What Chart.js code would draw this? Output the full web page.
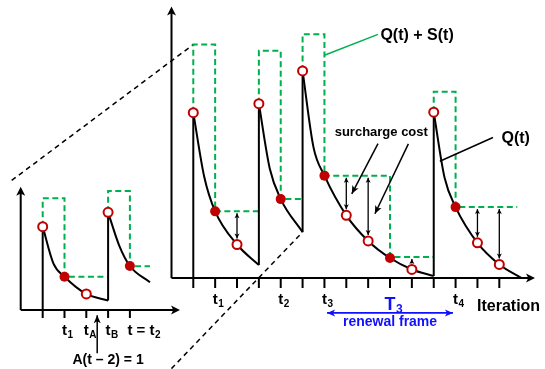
<!DOCTYPE html>
<html>
<head>
<meta charset="utf-8">
<script src="https://cdn.jsdelivr.net/npm/chart.js@4.4.1/dist/chart.umd.min.js"></script>
<style>
  html, body { margin: 0; padding: 0; background: #fff; }
  #wrap { position: relative; width: 545px; height: 369px; }
  canvas { position: absolute; left: 0; top: 0; }
</style>
</head>
<body>
<div id="wrap">
  <canvas id="inset" width="545" height="369"></canvas>
  <canvas id="main" width="545" height="369"></canvas>
</div>
<script>
// ---- main view: cost per iteration (x = iteration index, y = cost) ----
const mainTicks = [0, 1, 2, 3, 4, 5, 6, 7, 8, 9, 10, 11, 12, 13, 14];
const mainTickLabels = ['', ['t', '1'], '', '', ['t', '2'], '', ['t', '3'], '', '', '', '', '', ['t', '4'], '', ''];

// Q(t), one decaying piece per frame
const q1 = [[0, 62.05], [0.5, 38], [1, 25], [2, 12.57], [3, 4.85]];
const q2 = [[3, 65.4], [3.5, 41], [4, 29.6], [5, 17.2]];
const q3 = [[5, 77.7], [5.5, 49], [6, 38.4], [7, 23.5], [8, 13.9], [9, 7.5], [10, 3.2], [11, 0.75]];
const q4 = [[11, 62.2], [11.5, 37.5], [12, 26.6], [13, 13.2], [14, 5.1], [15.02, 0]];
// jumps at renewals
const jumps = [[[0, 0], [0, 62.05]], [[3, 4.85], [3, 65.4]], [[5, 17.2], [5, 77.7]], [[11, 0.75], [11, 62.2]]];

// Q(t) + S(t), step line
const qs1 = [[0, 62.05], [0, 87.6], [1, 87.6], [1, 25], [3, 25]];
const qs2 = [[3, 65.4], [3, 85.3], [4, 85.3], [4, 29.6], [5, 29.6]];
const qs3 = [[5, 77.7], [5, 91.5], [6, 91.5], [6, 38.4], [9, 38.4], [9, 7.9], [11, 7.9]];
const qs4 = [[11, 62.2], [11, 69.9], [12, 69.9], [12, 26.6], [14.82, 26.6]];

const openPts = [[0, 62.05], [2, 12.57], [3, 65.4], [5, 77.7], [7, 23.5], [8, 13.9], [10, 3.2], [11, 62.2], [13, 13.2], [14, 5.1]];
const filledPts = [[1, 25], [4, 29.6], [6, 38.4], [9, 7.5], [12, 26.6]];

// surcharge (gap between Q+S level and Q)
const surchargeK = [2, 7, 8, 10, 13, 14];
const surchargeTop = [25, 38.4, 38.4, 7.9, 26.6, 26.6];
const surchargeBottom = [12.57, 23.5, 13.9, 3.2, 13.2, 5.1];

// zoom connector lines (main units)
const connectUpper = [[-8.31, 36.6], [0, 87.6]];
const connectLower = [[-1.0, -34], [5, 17.2]];

// ---- inset view ----
const insetTicks = [0, 1, 2, 3, 4];
const insetTickLabels = ['', ['t', '1'], ['t', 'A'], ['t', 'B'], ['t = t', '2']];
const iq1 = [[0, 67.6], [0.5, 37.4], [1, 27.0], [2, 13.0], [3, 7.7]];
const iq2 = [[3, 79.2], [3.5, 52.7], [4, 35.7], [4.92, 22.5]];
const ijumps = [[[0, 0], [0, 67.6]], [[3, 7.7], [3, 79.2]]];
const iqs1 = [[0, 67.6], [0, 90.6], [1, 90.6], [1, 27.0], [3, 27.0]];
const iqs2 = [[3, 79.2], [3, 96.5], [4, 96.5], [4, 35.5], [4.92, 35.5]];
const iOpen = [[0, 67.6], [2, 13.0], [3, 79.2]];
const iFilled = [[1, 27.0], [4, 35.7]];

const FONT = '"Liberation Sans", Arial, sans-serif';
const GREEN = '#00b050';
const RED = '#c00000';
const BLUE = '#1010ff';

const xy = arr => arr.map(([x, y]) => ({ x, y }));

function lineDs(data, color, width, dash, smooth) {
  return {
    data: xy(data), showLine: true, borderColor: color, borderWidth: width,
    borderDash: dash || [], pointRadius: 0, fill: false, clip: false,
    tension: 0, cubicInterpolationMode: smooth ? 'monotone' : 'default'
  };
}
function markerDs(data, open, r) {
  return {
    data: xy(data), showLine: false, clip: false, pointStyle: 'circle',
    pointRadius: r, borderWidth: open ? 2 : 0, borderColor: RED,
    backgroundColor: open ? '#fff' : RED
  };
}

function arrowHead(ctx, x, y, ang, len, half) {
  ctx.save();
  ctx.translate(x, y);
  ctx.rotate(ang);
  ctx.beginPath();
  ctx.moveTo(0, 0);
  ctx.lineTo(-len, -half);
  ctx.lineTo(-len * 0.75, 0);
  ctx.lineTo(-len, half);
  ctx.closePath();
  ctx.fill();
  ctx.restore();
}
function arrow(ctx, x1, y1, x2, y2, both, len, half) {
  const ang = Math.atan2(y2 - y1, x2 - x1);
  ctx.beginPath();
  ctx.moveTo(x1, y1);
  ctx.lineTo(x2, y2);
  ctx.stroke();
  arrowHead(ctx, x2, y2, ang, len, half);
  if (both) arrowHead(ctx, x1, y1, ang + Math.PI, len, half);
}

function drawAxes(chart, ticks, labels, tickLen, labelGap) {
  const { ctx, chartArea: a, scales: { x, y } } = chart;
  const y0 = y.getPixelForValue(0);
  ctx.save();
  ctx.strokeStyle = '#000';
  ctx.fillStyle = '#000';
  ctx.lineWidth = 2;
  ctx.beginPath();
  ctx.moveTo(a.left, y0); ctx.lineTo(a.right - 5, y0);
  ctx.moveTo(a.left, y0); ctx.lineTo(a.left, a.top + 5);
  ctx.stroke();
  arrowHead(ctx, a.right, y0, 0, 9, 4.5);
  arrowHead(ctx, a.left, a.top, -Math.PI / 2, 9, 4.5);
  ctx.beginPath();
  ticks.forEach(t => {
    const px = x.getPixelForValue(t);
    ctx.moveTo(px, y0); ctx.lineTo(px, y0 + tickLen);
  });
  ctx.stroke();
  ticks.forEach((t, i) => {
    const lab = labels[i];
    if (!lab) return;
    const px = x.getPixelForValue(t);
    ctx.font = 'bold 15px ' + FONT;
    const tw = ctx.measureText('t').width;
    const bw = ctx.measureText(lab[0]).width;
    const x0 = px - tw / 2;
    ctx.textAlign = 'left';
    ctx.textBaseline = 'alphabetic';
    ctx.fillText(lab[0], x0, y0 + labelGap);
    ctx.font = 'bold 10px ' + FONT;
    ctx.fillText(lab[1], x0 + bw + 0.5, y0 + labelGap + 3);
  });
  ctx.restore();
}

const mainDecor = {
  id: 'mainDecor',
  beforeDatasetsDraw(chart) {
    drawAxes(chart, mainTicks, mainTickLabels, 10, 26);
  },
  afterDatasetsDraw(chart) {
    const { ctx, scales: { x, y } } = chart;
    const X = v => x.getPixelForValue(v), Y = v => y.getPixelForValue(v);
    ctx.save();
    ctx.strokeStyle = '#000';
    ctx.fillStyle = '#000';
    // surcharge double arrows
    ctx.lineWidth = 1.3;
    surchargeK.forEach((k, i) => {
      const top = Y(surchargeTop[i]) + 2, bot = Y(surchargeBottom[i]) - 6;
      if (bot - top < 10) {
        arrow(ctx, X(k), bot, X(k), top, false, 5, 2.5);
      } else {
        arrow(ctx, X(k), top, X(k), bot, true, 5, 2.5);
      }
    });
    // surcharge pointers
    ctx.lineWidth = 1.5;
    arrow(ctx, X(8.45), Y(50.4), X(7.25), Y(31.6), false, 8, 3.5);
    arrow(ctx, X(9.84), Y(50.3), X(8.31), Y(24.1), false, 8, 3.5);
    // Q(t) leader
    ctx.beginPath();
    ctx.moveTo(X(11.28), Y(43.8)); ctx.lineTo(X(13.71), Y(52.7));
    ctx.stroke();
    // Q+S leader
    ctx.strokeStyle = GREEN;
    ctx.beginPath();
    ctx.moveTo(X(6), Y(83.6)); ctx.lineTo(X(8.45), Y(91.4));
    ctx.stroke();
    // texts
    ctx.fillStyle = '#000';
    ctx.textBaseline = 'middle';
    ctx.textAlign = 'left';
    ctx.font = 'bold 16px ' + FONT;
    ctx.fillText('Q(t) + S(t)', X(8.56), Y(91));
    ctx.fillText('Q(t)', X(14.1), Y(52.2));
    ctx.fillText('Iteration', X(12.98), Y(-10.6));
    ctx.textAlign = 'center';
    ctx.font = 'bold 13px ' + FONT;
    ctx.fillText('surcharge cost', X(8.6), Y(54.6));
    // renewal frame
    ctx.fillStyle = BLUE;
    ctx.strokeStyle = BLUE;
    ctx.lineWidth = 1.6;
    arrow(ctx, X(6.12), Y(-13.1), X(11.88), Y(-13.1), true, 8, 3.5);
    ctx.textBaseline = 'alphabetic';
    ctx.textAlign = 'left';
    ctx.font = 'bold 18px ' + FONT;
    const tW = ctx.measureText('T').width;
    const tx = X(9.0) - tW / 2;
    ctx.fillText('T', tx, Y(-11.9));
    ctx.font = 'bold 12px ' + FONT;
    ctx.fillText('3', tx + tW + 0.5, Y(-11.9) + 3);
    ctx.textAlign = 'center';
    ctx.textBaseline = 'middle';
    ctx.font = 'bold 14px ' + FONT;
    ctx.fillText('renewal frame', X(9.0), Y(-16.5));
    ctx.restore();
  }
};

const insetDecor = {
  id: 'insetDecor',
  beforeDatasetsDraw(chart) {
    drawAxes(chart, insetTicks, insetTickLabels, 8, 25);
  },
  afterDatasetsDraw(chart) {
    const { ctx, scales: { x, y } } = chart;
    const X = v => x.getPixelForValue(v), Y = v => y.getPixelForValue(v);
    ctx.save();
    ctx.strokeStyle = '#000';
    ctx.fillStyle = '#000';
    ctx.lineWidth = 1.5;
    arrow(ctx, X(2.5), Y(-35.1), X(2.5), Y(-4.2), false, 8, 3.5);
    ctx.font = 'bold 14px ' + FONT;
    ctx.textAlign = 'center';
    ctx.textBaseline = 'middle';
    ctx.fillText('A(t \u2013 2) = 1', X(3.0), Y(-40.6));
    ctx.restore();
  }
};

function baseOptions(pad, xMin, xMax, yMax) {
  return {
    responsive: false,
    animation: false,
    devicePixelRatio: 1,
    events: [],
    layout: { padding: pad },
    plugins: { legend: { display: false }, tooltip: { enabled: false } },
    scales: {
      x: { type: 'linear', min: xMin, max: xMax, display: false },
      y: { type: 'linear', min: 0, max: yMax, display: false }
    }
  };
}

new Chart(document.getElementById('main'), {
  type: 'scatter',
  data: {
    datasets: [
      markerDs(filledPts, false, 5),
      markerDs(openPts, true, 4.5),
      lineDs(q1, '#000', 2, null, true),
      lineDs(q2, '#000', 2, null, true),
      lineDs(q3, '#000', 2, null, true),
      lineDs(q4, '#000', 2, null, true),
      ...jumps.map(j => lineDs(j, '#000', 2)),
      lineDs(qs1, GREEN, 2, [6, 3.5]),
      lineDs(qs2, GREEN, 2, [6, 3.5]),
      lineDs(qs3, GREEN, 2, [6, 3.5]),
      lineDs(qs4, GREEN, 2, [6, 3.5]),
      lineDs(connectUpper, '#000', 1.5, [5, 4]),
      lineDs(connectLower, '#000', 1.5, [5, 4])
    ]
  },
  options: baseOptions({ left: 171.5, right: 10, top: 5, bottom: 91 }, -0.997, 15.633, 101.87),
  plugins: [mainDecor]
});

new Chart(document.getElementById('inset'), {
  type: 'scatter',
  data: {
    datasets: [
      markerDs(iFilled, false, 5),
      markerDs(iOpen, true, 4.5),
      lineDs(iq1, '#000', 2, null, true),
      lineDs(iq2, '#000', 2, null, true),
      ...ijumps.map(j => lineDs(j, '#000', 2)),
      lineDs(iqs1, GREEN, 2, [6, 3.5]),
      lineDs(iqs2, GREEN, 2, [6, 3.5])
    ]
  },
  options: baseOptions({ left: 20.7, right: 365, top: 186.7, bottom: 59 }, -1.009, 6.298, 100),
  plugins: [insetDecor]
});
</script>
</body>
</html>
